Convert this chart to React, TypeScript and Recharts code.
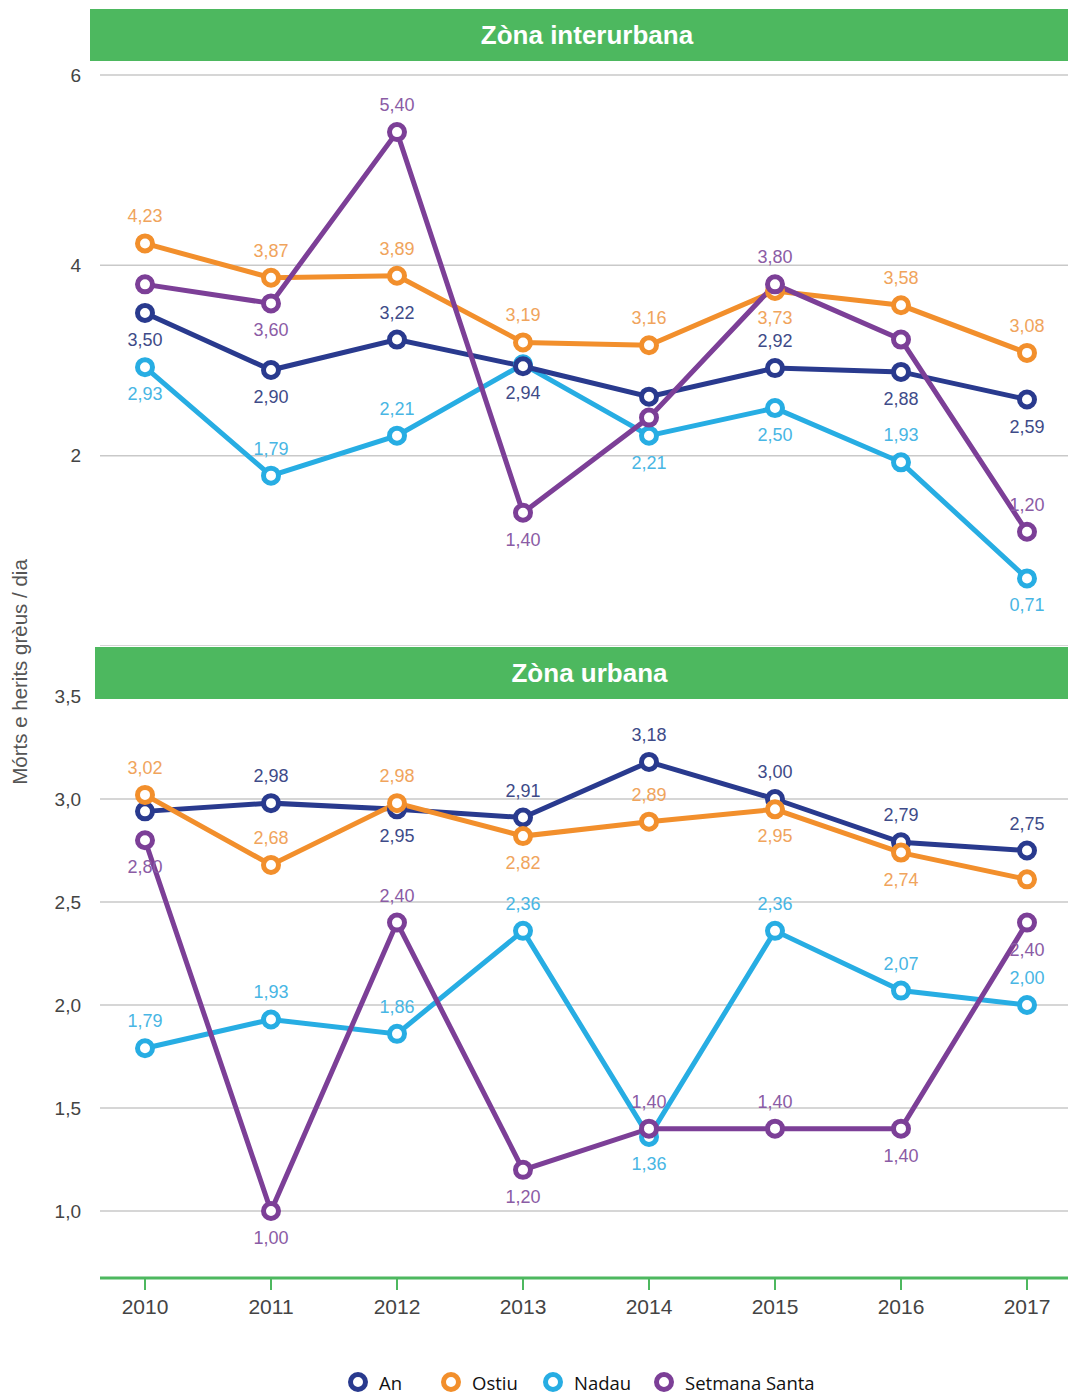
import { LineChart, Line, XAxis, YAxis, CartesianGrid, LabelList } from 'recharts';

const years = ['2010', '2011', '2012', '2013', '2014', '2015', '2016', '2017'];

// Zòna interurbana
const interAn = [3.5, 2.9, 3.22, 2.94, 2.62, 2.92, 2.88, 2.59];
const interOstiu = [4.23, 3.87, 3.89, 3.19, 3.16, 3.73, 3.58, 3.08];
const interNadau = [2.93, 1.79, 2.21, 2.96, 2.21, 2.5, 1.93, 0.71];
const interSetmana = [3.8, 3.6, 5.4, 1.4, 2.4, 3.8, 3.22, 1.2];
const interTicks = [2, 4, 6];

// Zòna urbana
const urbanAn = [2.94, 2.98, 2.95, 2.91, 3.18, 3.0, 2.79, 2.75];
const urbanOstiu = [3.02, 2.68, 2.98, 2.82, 2.89, 2.95, 2.74, 2.61];
const urbanNadau = [1.79, 1.93, 1.86, 2.36, 1.36, 2.36, 2.07, 2.0];
const urbanSetmana = [2.8, 1.0, 2.4, 1.2, 1.4, 1.4, 1.4, 2.4];
const urbanTicks = [1, 1.5, 2, 2.5, 3, 3.5];

// where each value label sits: a = above, b = below, '' = none
const interPos = {
  an: ['b', 'b', 'a', 'b', '', 'a', 'b', 'b'],
  ostiu: ['a', 'a', 'a', 'a', 'a', 'b', 'a', 'a'],
  nadau: ['b', 'a', 'a', '', 'b', 'b', 'a', 'b'],
  setmana: ['', 'b', 'a', 'b', '', 'a', '', 'a'],
};
const urbanPos = {
  an: ['', 'a', 'b', 'a', 'a', 'a', 'a', 'a'],
  ostiu: ['a', 'a', 'a', 'b', 'a', 'b', 'b', ''],
  nadau: ['a', 'a', 'a', 'a', 'b', 'a', 'a', 'a'],
  setmana: ['b', 'b', 'a', 'b', 'a', 'a', 'b', 'b'],
};

const series = [
  { key: 'nadau', name: 'Nadau', color: '#27ade3', label: '#48b6e4' },
  { key: 'an', name: 'An', color: '#293a8e', label: '#3e4b88' },
  { key: 'ostiu', name: 'Ostiu', color: '#f28f2c', label: '#f0a45c' },
  { key: 'setmana', name: 'Setmana Santa', color: '#7c3f97', label: '#8b5ca5' },
];
const legendOrder = ['an', 'ostiu', 'nadau', 'setmana'];
const legendLeft = [347, 440, 542, 653];

const interData = years.map((year, i) => ({
  year,
  an: interAn[i],
  ostiu: interOstiu[i],
  nadau: interNadau[i],
  setmana: interSetmana[i],
}));
const urbanData = years.map((year, i) => ({
  year,
  an: urbanAn[i],
  ostiu: urbanOstiu[i],
  nadau: urbanNadau[i],
  setmana: urbanSetmana[i],
}));

const GREEN = '#4db85f';
const FONT = '"Liberation Sans", Arial, sans-serif';
const fmt = (v: number) => v.toFixed(2).replace('.', ',');

const makeLabel = (pos: string[], color: string) => (p: any) => {
  const i = p.index;
  const where = pos[i];
  if (!where) return null;
  const x = p.x ?? p.viewBox?.x;
  const y = p.y ?? p.viewBox?.y;
  return (
    <text
      key={i}
      x={x}
      y={where === 'a' ? y - 27 : y + 27}
      textAnchor="middle"
      dominantBaseline="central"
      fill={color}
      fontSize={18}
      fontFamily={FONT}
    >
      {fmt(Number(p.value))}
    </text>
  );
};

function Panel({ data, pos, domain, ticks, showX, height, top, tickFmt }: any) {
  return (
    <div style={{ position: 'absolute', left: 0, top }}>
      <LineChart width={1068} height={height} data={data} margin={{ top: 49, right: 0, bottom: 0, left: 0 }}>
        <CartesianGrid vertical={false} stroke="#c9c9c9" strokeWidth={1.5} />
        <XAxis
          dataKey="year"
          hide={!showX}
          padding={{ left: 45, right: 41 }}
          height={50}
          axisLine={{ stroke: GREEN, strokeWidth: 3 }}
          tickLine={{ stroke: GREEN, strokeWidth: 2 }}
          tickSize={12}
          tickMargin={9}
          tick={{ fill: '#444', fontSize: 21, fontFamily: FONT }}
        />
        <YAxis
          width={100}
          domain={domain}
          ticks={ticks}
          allowDataOverflow
          axisLine={false}
          tickLine={false}
          tickSize={0}
          tickMargin={19}
          tickFormatter={tickFmt}
          tick={{ fill: '#444', fontSize: 19, fontFamily: FONT }}
        />
        {series.map((s) => (
          <Line
            key={s.key}
            dataKey={s.key}
            name={s.name}
            type="linear"
            stroke={s.color}
            strokeWidth={5}
            dot={{ r: 7.5, fill: '#fff', stroke: s.color, strokeWidth: 5 }}
            activeDot={false}
            isAnimationActive={false}
          >
            <LabelList dataKey={s.key} content={makeLabel(pos[s.key], s.label)} />
          </Line>
        ))}
      </LineChart>
    </div>
  );
}

function Header({ text, top, left }: { text: string; top: number; left: number }) {
  return (
    <div
      style={{
        position: 'absolute',
        top,
        left,
        width: 1068 - left,
        height: 52,
        paddingLeft: 16,
        boxSizing: 'border-box',
        background: GREEN,
        color: '#fff',
        fontFamily: FONT,
        fontWeight: 'bold',
        fontSize: 26,
        lineHeight: '52px',
        textAlign: 'center',
        zIndex: 2,
      }}
    >
      {text}
    </div>
  );
}

export default function App() {
  return (
    <div style={{ position: 'relative', width: 1068, height: 1393, background: '#fff', overflow: 'hidden' }}>
      <style>{'body{margin:0}'}</style>
      {/* top panel: plot runs from y=75 to y=646 */}
      <Panel
        data={interData}
        pos={interPos}
        domain={[0, 6]}
        ticks={interTicks}
        showX={false}
        height={620}
        top={26}
        tickFmt={(v: number) => String(v)}
      />
      {/* bottom panel: plot runs from y=696 to the axis at y=1278 */}
      <Panel
        data={urbanData}
        pos={urbanPos}
        domain={[0.675, 3.5]}
        ticks={urbanTicks}
        showX
        height={681}
        top={647}
        tickFmt={(v: number) => v.toFixed(1).replace('.', ',')}
      />
      <Header text="Zòna interurbana" top={9} left={90} />
      <Header text="Zòna urbana" top={647} left={95} />
      <div
        style={{
          position: 'absolute',
          left: 20,
          top: 672,
          transform: 'translate(-50%, -50%) rotate(-90deg)',
          whiteSpace: 'nowrap',
          fontFamily: FONT,
          fontSize: 20.5,
          color: '#555',
        }}
      >
        Mórts e herits grèus / dia
      </div>
      {legendOrder.map((k, i) => {
        const s = series.find((x) => x.key === k)!;
        return (
          <div
            key={k}
            style={{
              position: 'absolute',
              top: 1370,
              left: legendLeft[i],
              display: 'flex',
              alignItems: 'center',
              height: 24,
              fontFamily: '"Open Sans", sans-serif',
              fontSize: 18.5,
              color: '#111',
              whiteSpace: 'nowrap',
            }}
          >
            <svg width={22} height={22} style={{ marginRight: 10 }}>
              <circle cx={11} cy={11} r={7.5} fill="#fff" stroke={s.color} strokeWidth={5} />
            </svg>
            <span>{s.name}</span>
          </div>
        );
      })}
    </div>
  );
}
